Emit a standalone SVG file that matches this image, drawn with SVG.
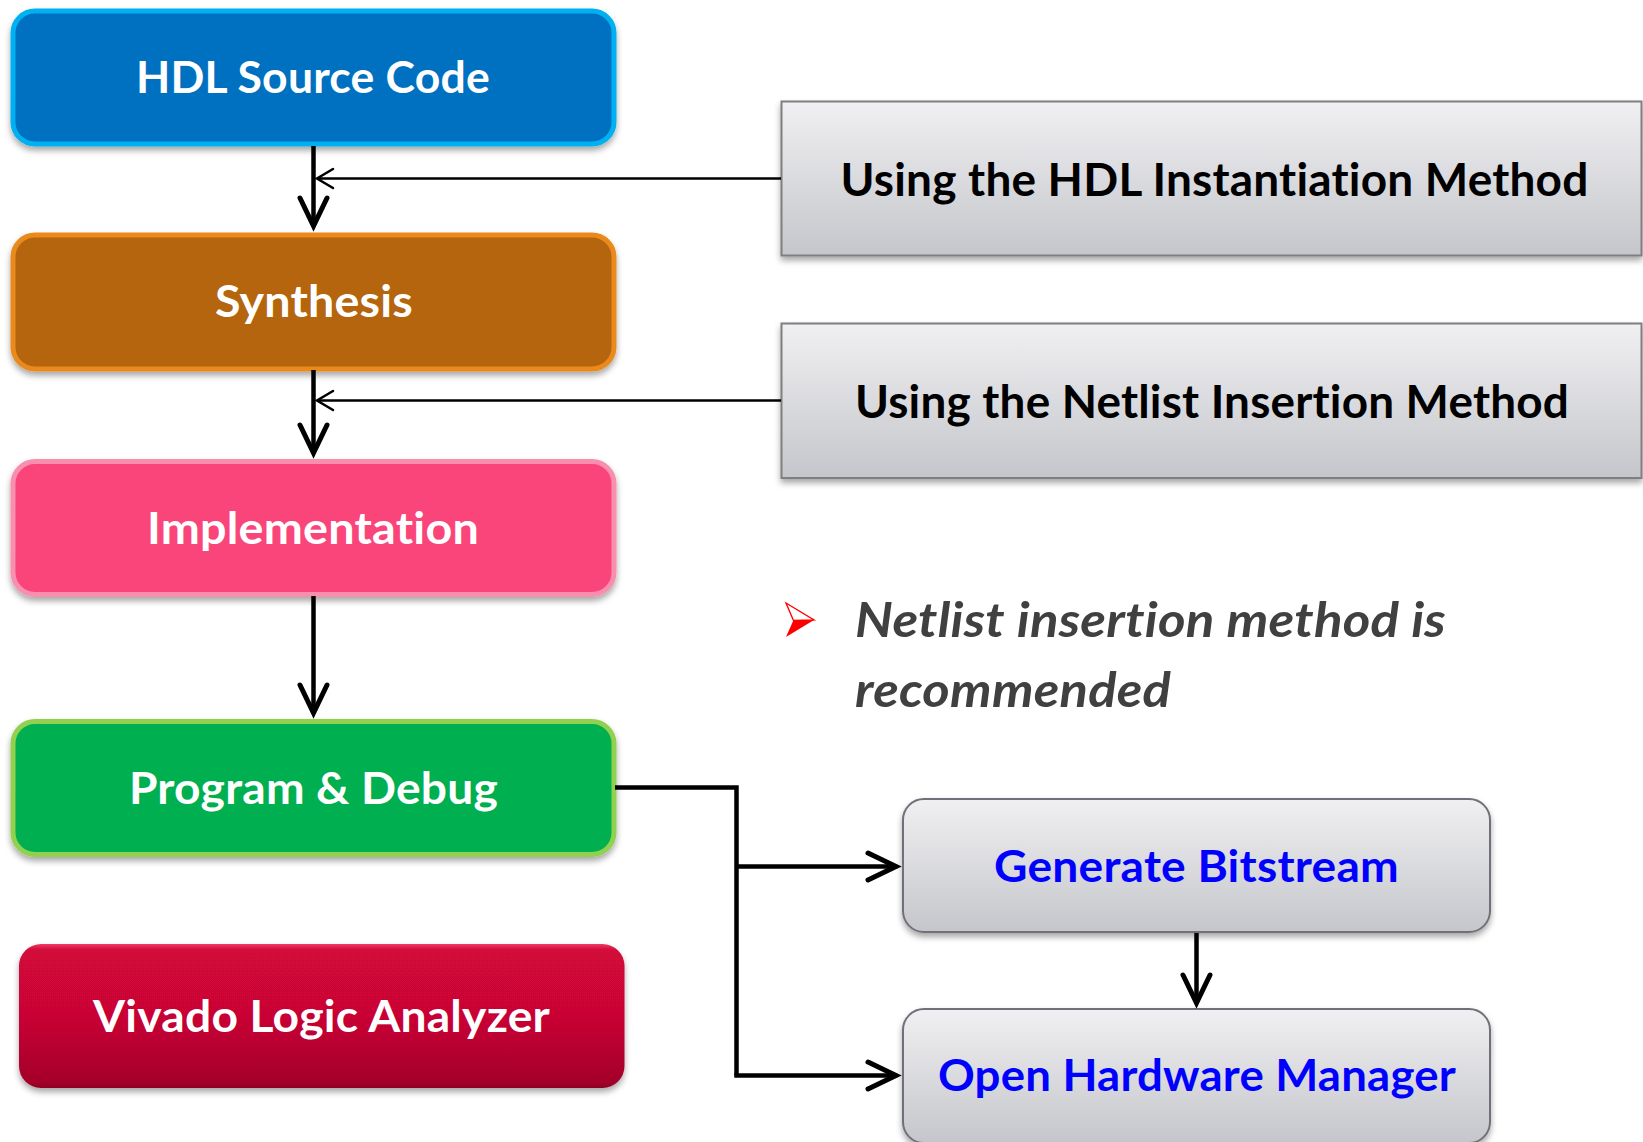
<svg xmlns="http://www.w3.org/2000/svg" width="1643" height="1142" viewBox="0 0 1643 1142">
<defs>
<style>
text{font-variant-ligatures:none;font-feature-settings:"liga" 0,"clig" 0,"dlig" 0;letter-spacing:0.2px}
.lbl{font-family:Lato,"Open Sans","DejaVu Sans",sans-serif;font-weight:700;text-anchor:middle}
.w{fill:#FFFFFF;font-size:43px}
.g{fill:#000000;font-size:45px}
.b{fill:#0000FF;font-size:43px}
.it{font-family:Lato,"Open Sans","DejaVu Sans",sans-serif;font-weight:700;font-style:italic;fill:#404040;font-size:47px}
.box{stroke-width:5}
.gray{fill:url(#gg);stroke:#7F7F7F;stroke-width:2}
.rgray{fill:url(#gg);stroke:#707078;stroke-width:2}
.thick{fill:none;stroke:#000;stroke-width:4.5}
.thin{fill:none;stroke:#000;stroke-width:2.5}
</style>
<linearGradient id="gg" x1="0" y1="0" x2="0" y2="1">
<stop offset="0" stop-color="#F0F0F2"/>
<stop offset="1" stop-color="#C5C6CB"/>
</linearGradient>
<linearGradient id="rg" x1="0" y1="0" x2="0" y2="1">
<stop offset="0" stop-color="#EE3C64"/>
<stop offset="0.04" stop-color="#D2073A"/>
<stop offset="0.5" stop-color="#C90634"/>
<stop offset="0.96" stop-color="#A4062A"/>
<stop offset="1" stop-color="#8E0522"/>
</linearGradient>
<filter id="sh" x="-5%" y="-10%" width="110%" height="130%">
<feDropShadow dx="0" dy="4" stdDeviation="3" flood-color="#000" flood-opacity="0.35"/>
</filter>
<marker id="ah" markerUnits="userSpaceOnUse" orient="auto" overflow="visible" refX="0" refY="0" markerWidth="1" markerHeight="1">
<path d="M-28,-13.5 L0,0 L-28,13.5" fill="none" stroke="#000" stroke-width="5" stroke-linecap="round"/>
</marker>
<marker id="as" markerUnits="userSpaceOnUse" orient="auto" overflow="visible" refX="0" refY="0" markerWidth="1" markerHeight="1">
<path d="M-16,-9.5 L0,0 L-16,9.5" fill="none" stroke="#000" stroke-width="2.5" stroke-linecap="round"/>
</marker>
</defs>
<rect width="1643" height="1142" fill="#FFFFFF"/>

<g id="hdl">
<rect class="box" x="13" y="11" width="601" height="133" rx="22" fill="#0070C0" stroke="#00B0F0" filter="url(#sh)"/>
<text class="lbl w" x="313" y="93" textLength="354" lengthAdjust="spacingAndGlyphs">HDL Source Code</text>
</g>
<g id="synthesis">
<rect class="box" x="13" y="235" width="601" height="134" rx="22" fill="#B46511" stroke="#EA8A1E" filter="url(#sh)"/>
<text class="lbl w" x="314" y="317" textLength="198" lengthAdjust="spacingAndGlyphs">Synthesis</text>
</g>
<g id="implementation">
<rect class="box" x="13" y="461.5" width="601" height="133" rx="22" fill="#F9457A" stroke="#F98FAF" filter="url(#sh)"/>
<text class="lbl w" x="313" y="543.5" textLength="332" lengthAdjust="spacingAndGlyphs">Implementation</text>
</g>
<g id="program">
<rect class="box" x="13" y="721.5" width="601" height="133" rx="22" fill="#00AF50" stroke="#92D050" filter="url(#sh)"/>
<text class="lbl w" x="313.5" y="804" textLength="369" lengthAdjust="spacingAndGlyphs">Program &amp; Debug</text>
</g>
<g id="vivado">
<rect x="19" y="944" width="605.5" height="144" rx="22" fill="url(#rg)" filter="url(#sh)"/>
<text class="lbl w" x="321.5" y="1031.5" textLength="457" lengthAdjust="spacingAndGlyphs">Vivado Logic Analyzer</text>
</g>
<g id="hdl-method">
<rect class="gray" x="781.5" y="101.5" width="860" height="154" filter="url(#sh)"/>
<text class="lbl g" x="1214.5" y="196" textLength="748" lengthAdjust="spacingAndGlyphs">Using the HDL Instantiation Method</text>
</g>
<g id="netlist-method">
<rect class="gray" x="781.5" y="323.5" width="860" height="154.5" filter="url(#sh)"/>
<text class="lbl g" x="1212" y="418" textLength="714" lengthAdjust="spacingAndGlyphs">Using the Netlist Insertion Method</text>
</g>
<g id="note">
<polygon points="786,603 814,620 793.5,620.5" fill="#FFFFFF" stroke="#FF0000" stroke-width="1.3" stroke-linejoin="miter"/>
<polygon points="793.5,620 814,620 786,637" fill="#FF0000"/>
<text class="it" x="855" y="637" textLength="591" lengthAdjust="spacingAndGlyphs">Netlist insertion method is</text>
<text class="it" x="855" y="707" textLength="316" lengthAdjust="spacingAndGlyphs">recommended</text>
</g>
<g id="bitstream">
<rect class="rgray" x="903" y="799" width="587" height="133" rx="21" filter="url(#sh)"/>
<text class="lbl b" x="1196.5" y="881.5" textLength="405" lengthAdjust="spacingAndGlyphs">Generate Bitstream</text>
</g>
<g id="hwmanager">
<rect class="rgray" x="903" y="1009" width="587" height="134" rx="21" filter="url(#sh)"/>
<text class="lbl b" x="1197" y="1091" textLength="518" lengthAdjust="spacingAndGlyphs">Open Hardware Manager</text>
</g>

<g id="connectors">
<line class="thick" x1="313.5" y1="146" x2="313.5" y2="226" marker-end="url(#ah)"/>
<line class="thin" x1="781" y1="178.5" x2="317" y2="178.5" marker-end="url(#as)"/>
<line class="thick" x1="313.5" y1="370" x2="313.5" y2="453" marker-end="url(#ah)"/>
<line class="thin" x1="781" y1="400.5" x2="317" y2="400.5" marker-end="url(#as)"/>
<line class="thick" x1="313.5" y1="596" x2="313.5" y2="713" marker-end="url(#ah)"/>
<polyline class="thick" points="615,787.5 736.5,787.5 736.5,1075.5"/>
<line class="thick" x1="736.5" y1="866.5" x2="896" y2="866.5" marker-end="url(#ah)"/>
<line class="thick" x1="734.25" y1="1075.5" x2="896" y2="1075.5" marker-end="url(#ah)"/>
<line class="thick" x1="1196.5" y1="933" x2="1196.5" y2="1003" stroke-width="3.5" marker-end="url(#ah)"/>
</g>
</svg>
